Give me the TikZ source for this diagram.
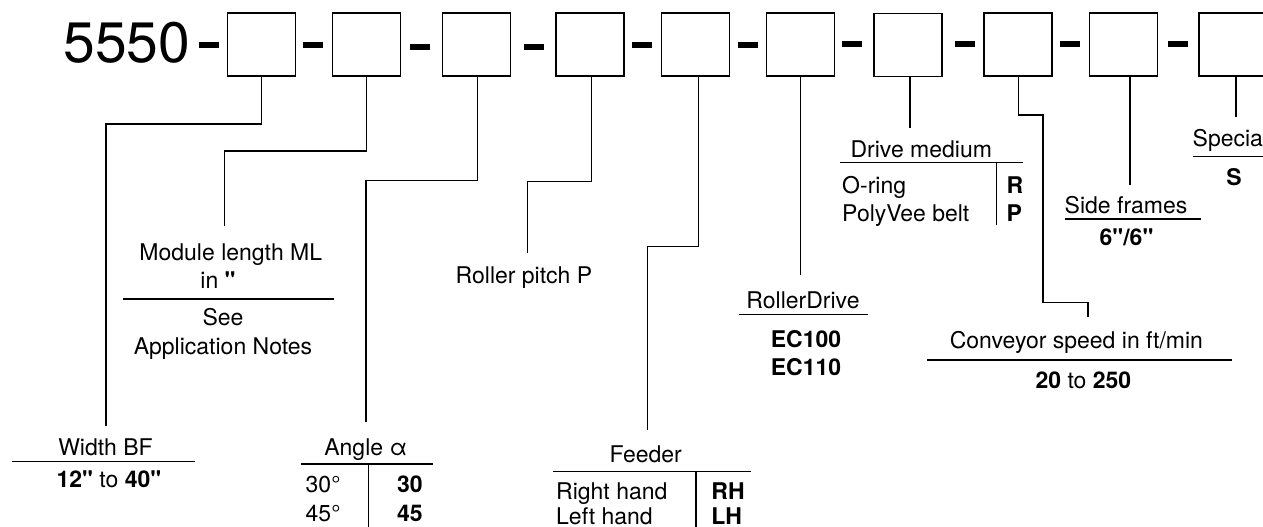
\documentclass[tikz,border=0pt]{standalone}
\usepackage{fontspec}
\newfontfamily\heros{TeX Gyre Heros}
\usetikzlibrary{positioning,calc}

\newcommand{\txtsize}{\heros\fontsize{23}{28}\selectfont}
\newcommand{\codesize}{\heros\fontsize{57}{60}\selectfont}

\tikzset{
  codebox/.style={draw, line width=1.5pt, minimum width=68pt, minimum height=63pt, inner sep=0pt},
  codedash/.style={fill=black, minimum width=20pt, minimum height=6pt, inner sep=0pt},
  lead/.style={line width=1.2pt},
  rulel/.style={line width=1.3pt},
  txt/.style={font=\txtsize, inner sep=0pt, anchor=base},
  txtl/.style={txt, anchor=base west},
}

\begin{document}
\begin{tikzpicture}[x=1pt,y=-1pt]
        \useasboundingbox (0,0) rectangle (1263,527);
        \clip (0,0) rectangle (1263,527);
        % type code with its fields
        \node[font=\codesize, inner sep=0pt, anchor=base east] (code) at (190.5,62.3) {5550};
        \node[codedash] (d1) at (209,44.7) {};
        \node[codebox] (box1) at (261.3,44.35) {};
        \node[codedash] (d2) at (312.8,44.7) {};
        \node[codebox] (box2) at (366.3,44.35) {};
        \node[codedash] (d3) at (419.7,46.8) {};
        \node[codebox] (box3) at (476.3,44.35) {};
        \node[codedash] (d4) at (534,46.8) {};
        \node[codebox] (box4) at (590,44.35) {};
        \node[codedash] (d5) at (642,44.7) {};
        \node[codebox] (box5) at (695.3,44.35) {};
        \node[codedash] (d6) at (748,44.7) {};
        \node[codebox] (box6) at (800.7,44.35) {};
        \node[codedash] (d7) at (852,43.7) {};
        \node[codebox] (box7) at (908,44.85) {};
        \node[codedash] (d8) at (965,44.2) {};
        \node[codebox] (box8) at (1018,44.35) {};
        \node[codedash] (d9) at (1070,44.2) {};
        \node[codebox] (box9) at (1123.3,44.35) {};
        \node[codedash] (d10) at (1178.3,44.2) {};
        \node[codebox] (box10) at (1233,44.35) {};

        % Width BF
        \coordinate (wbf) at (106,426);
        \node[txt] (wbfhead) at (105.5,455) {Width BF};
        \draw[rulel] (11.7,461.7) -- (195,461.7);
        \node[txt] (wbfval) at (108.9,487.7) {\textbf{12"} to \textbf{40"}};
        \draw[lead] (box1.south) -- ++(0,47.3) -| (wbf);

        % Module length
        \coordinate (ml) at (224.3,226);
        \node[txt] (mlhead) at (230.8,260.5) {Module length ML};
        \node[txt] (mlunit) at (218,288.5) {in \textbf{"}};
        \draw[rulel] (123.3,299) -- (334.3,299);
        \node[txt] (mlsee) at (223,325.7) {See};
        \node[txt] (mlnotes) at (223,354) {Application Notes};
        \draw[lead] (box2.south) -- ++(0,74.3) -| (ml);

        % Angle
        \coordinate (ang) at (366,422.3);
        \node[txt] (anghead) at (365.8,455) {Angle α};
        \draw[rulel] (301,464) -- (432.7,464);
        \draw[rulel] (368.7,464) -- (368.7,530);
        \node[txtl] (ang30) at (305.5,492.3) {30°};
        \node[txtl] (ang45) at (305.5,521) {45°};
        \node[txtl] (ang30v) at (396.8,492.3) {\textbf{30}};
        \node[txtl] (ang45v) at (396.8,521) {\textbf{45}};
        \draw[lead] ($(box3.south)+(1.4,0)$) -- ++(0,103.7) -| (ang);

        % Roller pitch
        \coordinate (rp) at (527.3,252.7);
        \node[txt] (rphead) at (524,283.3) {Roller pitch P};
        \draw[lead] ($(box4.south)+(1.3,0)$) -- ++(0,105) -| (rp);

        % Feeder
        \coordinate (fd) at (647.7,430);
        \node[txt] (fdhead) at (645.7,462.7) {Feeder};
        \draw[rulel] (553.3,471.7) -- (750.7,471.7);
        \draw[rulel] (696,471.7) -- (696,530);
        \node[txtl] (fdright) at (556,499.5) {Right hand};
        \node[txtl] (fdleft) at (556,524.5) {Left hand};
        \node[txtl] (fdrh) at (711.2,499.5) {\textbf{RH}};
        \node[txtl] (fdlh) at (711.2,524.5) {\textbf{LH}};
        \draw[lead] ($(box5.south)+(3.4,0)$) -- ++(0,170) -| (fd);

        % RollerDrive
        \coordinate (rd) at (800.7,275);
        \node[txt] (rdhead) at (803,308.3) {RollerDrive};
        \draw[rulel] (739,314.3) -- (868.3,314.3);
        \node[txt] (rd100) at (806,347.3) {\textbf{EC100}};
        \node[txt] (rd110) at (806,375.3) {\textbf{EC110}};
        \draw[lead] (box6.south) -- (rd);

        % Drive medium
        \coordinate (dm) at (910,127.7);
        \node[txt] (dmhead) at (921.3,157.3) {Drive medium};
        \draw[rulel] (840,162.7) -- (1022.7,162.7);
        \draw[rulel] (996.7,162.7) -- (996.7,225);
        \node[txtl] (dmoring) at (842,193.3) {O-ring};
        \node[txtl] (dmbelt) at (842,221.7) {PolyVee belt};
        \node[txtl] (dmr) at (1006.5,193.3) {\textbf{R}};
        \node[txtl] (dmp) at (1006.5,221.7) {\textbf{P}};
        \draw[lead] ($(box7.south)+(2,0)$) -- (dm);

        % Conveyor speed
        \coordinate (cs) at (1088,316.7);
        \node[txt] (cshead) at (1076.4,348.7) {Conveyor speed in ft/min};
        \draw[rulel] (927.3,360) -- (1231.7,360);
        \node[txt] (csval) at (1083.4,388.3) {\textbf{20} to \textbf{250}};
        \draw[lead] ($(box8.south)+(0.3,0)$) -- ++(0,38.3) -- ++(24.7,0) -- ++(0,187.4) -| (cs);

        % Side frames
        \coordinate (sf) at (1130,185);
        \node[txt] (sfhead) at (1126,213.3) {Side frames};
        \draw[rulel] (1065,219) -- (1200.7,219);
        \node[txt] (sfval) at (1126.5,245) {\textbf{6"/6"}};
        \draw[lead] ($(box9.south)+(6.7,0)$) -- (sf);

        % Special
        \coordinate (sp) at (1236,117.3);
        \node[txtl] (sphead) at (1192.5,146.7) {Special};
        \draw[rulel] (1192.7,156.7) -- (1280,156.7);
        \node[txt] (spval) at (1234,185) {\textbf{S}};
        \draw[lead] ($(box10.south)+(3,0)$) -- (sp);
\end{tikzpicture}
\end{document}
